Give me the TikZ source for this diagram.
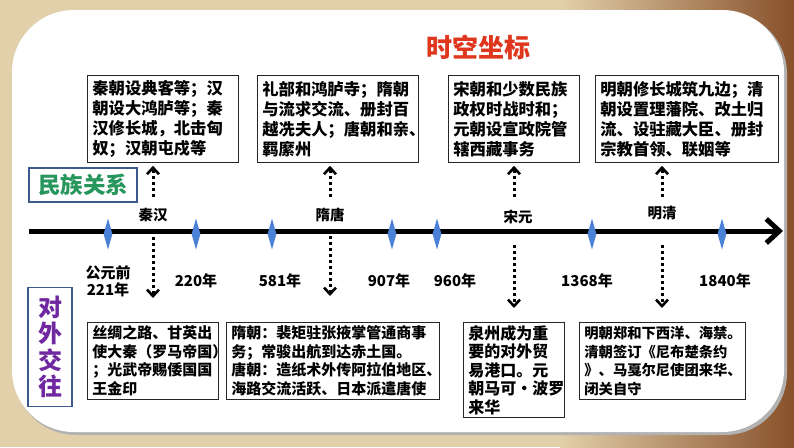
\documentclass[tikz,border=0pt]{standalone}
\usepackage{fontspec}
\setmainfont{Noto Sans CJK SC}
\usetikzlibrary{arrows.meta, shapes.geometric}
\definecolor{paper}{RGB}{226,208,170}
\definecolor{wood}{RGB}{135,80,42}
\definecolor{titlered}{RGB}{222,55,30}
\definecolor{tribegreen}{RGB}{38,150,92}
\definecolor{tradepurple}{RGB}{112,40,160}
\definecolor{framegray}{RGB}{60,90,140}
\definecolor{tickblue}{RGB}{75,130,215}

\begin{document}
\begin{tikzpicture}[x=1pt, y=-1pt,
    textbox/.style={draw=black!85, line width=0.8pt, fill=white, anchor=north west,
        align=left, inner xsep=5pt, inner ysep=2pt, font=\bfseries\fontsize{16.3}{20}\selectfont},
    lowbox/.style={textbox, font=\bfseries\fontsize{15}{18.5}\selectfont},
    tagbox/.style={draw=framegray, line width=1.2pt, fill=white, inner sep=0pt},
    tick/.style={diamond, fill=tickblue, inner sep=0pt, minimum width=9pt, minimum height=31pt},
    year/.style={font=\bfseries\fontsize{15}{17}\selectfont, align=center},
    era/.style={font=\bfseries\fontsize{14.5}{16}\selectfont},
    dotarrow/.style={line width=3pt, dash pattern=on 3pt off 3pt,
        -{Straight Barb[length=6.5pt, width=12pt, line width=2.6pt]}},
    timeline/.style={line width=5pt, -{Straight Barb[length=13pt, width=24pt]}}]

    \useasboundingbox (0,0) rectangle (794,447);

    % Background and panel
    \fill[paper] (0,0) rectangle (794,447);
    \shade[left color=paper, right color=wood] (560,0) rectangle (794,447);
    \fill[black!30, rounded corners=62pt] (14,12) rectangle (787,435);
    \fill[white, rounded corners=62pt] (12,10) rectangle (784,432);

    % Title
    \node[font=\bfseries\fontsize{26}{30}\selectfont, text=titlered] (title) at (478,47) {时空坐标};

    % Side tags
    \node[tagbox, minimum width=108pt, minimum height=34pt, text=tribegreen,
        font=\bfseries\fontsize{22.5}{26}\selectfont] (tribes) at (83,185) {民族关系};
    \node[tagbox, minimum width=44pt, minimum height=119pt, text=tradepurple, align=center,
        font=\bfseries\fontsize{24}{26.5}\selectfont] (trade) at (50,347) {对\\外\\交\\往};

    % Upper boxes
    \node[textbox, text width=141pt, minimum height=87pt] (top1) at (87,75)
        {秦朝设典客等；汉\\朝设大鸿胪等；秦\\汉修长城，北击匈\\奴；汉朝屯戍等};
    \node[textbox, text width=151pt, minimum height=87pt] (top2) at (257,75)
        {礼部和鸿胪寺；隋朝\\与流求交流、册封百\\越冼夫人；唐朝和亲、\\羁縻州};
    \node[textbox, text width=121pt, minimum height=87pt] (top3) at (448,75)
        {宋朝和少数民族\\政权时战时和；\\元朝设宣政院管\\辖西藏事务};
    \node[textbox, text width=173pt, minimum height=87pt] (top4) at (595,75)
        {明朝修长城筑九边；清\\朝设置理藩院、改土归\\流、设驻藏大臣、册封\\宗教首领、联姻等};

    % Lower boxes
    \node[lowbox, text width=121pt, minimum height=77pt] (low1) at (87,322)
        {丝绸之路、甘英出\\使大秦（罗马帝国）\\；光武帝赐倭国国\\王金印};
    \node[lowbox, text width=203pt, minimum height=77pt] (low2) at (226,322)
        {隋朝：裴矩驻张掖掌管通商事\\务；常骏出航到达赤土国。\\唐朝：造纸术外传阿拉伯地区、\\海路交流活跃、日本派遣唐使};
    \node[lowbox, text width=91pt, minimum height=95pt,
        font=\bfseries\fontsize{16}{18.5}\selectfont] (low3) at (463,322)
        {泉州成为重\\要的对外贸\\易港口。元\\朝马可•波罗\\来华};
    \node[lowbox, text width=156pt, minimum height=77pt,
        font=\bfseries\fontsize{14.3}{18.5}\selectfont] (low4) at (579,322)
        {明朝郑和下西洋、海禁。\\清朝签订《尼布楚条约\\》、马戛尔尼使团来华、\\闭关自守};

    % Time axis
    \coordinate (axisL) at (29,231);
    \coordinate (axisR) at (783,231);
    \draw[timeline] (axisL) -- (axisR);

    % Diamonds on the axis
    \node[tick] (t221) at (108,234) {};
    \node[tick] (t220) at (196,234) {};
    \node[tick] (t581) at (272,234) {};
    \node[tick] (t907) at (392,234) {};
    \node[tick] (t960) at (437,234) {};
    \node[tick] (t1368) at (592,234) {};
    \node[tick] (t1840) at (722,234) {};

    % Year labels
    \node[year] (y221) at (108,281.5) {公元前\\221年};
    \node[year] (y220) at (196,281) {220年};
    \node[year] (y581) at (280,281) {581年};
    \node[year] (y907) at (389,281) {907年};
    \node[year] (y960) at (455,281) {960年};
    \node[year] (y1368) at (587,281) {1368年};
    \node[year] (y1840) at (725,281) {1840年};

    % Era labels
    \node[era] (qinhan) at (153,215) {秦汉};
    \node[era] (suitang) at (330,215) {隋唐};
    \node[era] (songyuan) at (518,217) {宋元};
    \node[era] (mingqing) at (662,213) {明清};

    % Dotted arrows up
    \coordinate (qhUp) at (153,197);
    \coordinate (stUp) at (330,197);
    \coordinate (syUp) at (514,197);
    \coordinate (mqUp) at (662,197);
    \draw[dotarrow, shorten >=3pt] (qhUp) -- (qhUp |- top1.south);
    \draw[dotarrow, shorten >=3pt] (stUp) -- (stUp |- top2.south);
    \draw[dotarrow, shorten >=3pt] (syUp) -- (syUp |- top3.south);
    \draw[dotarrow, shorten >=3pt] (mqUp) -- (mqUp |- top4.south);

    % Dotted arrows down
    \coordinate (qhA) at (153,237);
    \coordinate (qhB) at (153,298);
    \coordinate (stA) at (330,236);
    \coordinate (stB) at (330,296);
    \coordinate (syA) at (514,245);
    \coordinate (syB) at (514,308);
    \coordinate (mqA) at (662,245);
    \coordinate (mqB) at (662,308);
    \draw[dotarrow] (qhA) -- (qhB);
    \draw[dotarrow] (stA) -- (stB);
    \draw[dotarrow] (syA) -- (syB);
    \draw[dotarrow] (mqA) -- (mqB);

\end{tikzpicture}
\end{document}
